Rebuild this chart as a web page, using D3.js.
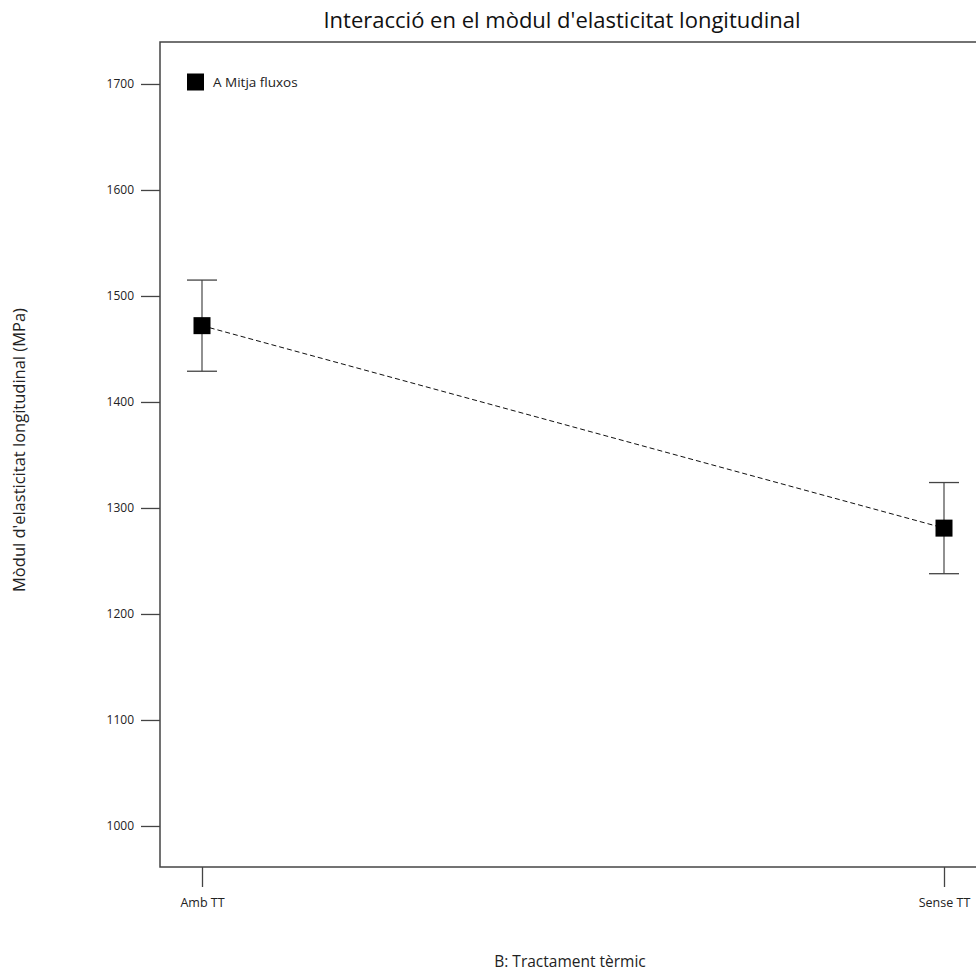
<!DOCTYPE html>
<html><head><meta charset="utf-8">
<script src="https://cdn.jsdelivr.net/npm/d3@7"></script>
<style>
body{margin:0;background:#fff;}
svg{display:block;font-family:"Open Sans","Noto Sans",sans-serif;}
</style></head>
<body><svg id="c" width="976" height="974"></svg>
<script>
const categories = ["Amb TT", "Sense TT"];
const means = [1472, 1281];
const lower = [1429, 1238];
const upper = [1515, 1324];
const yTicks = [1000, 1100, 1200, 1300, 1400, 1500, 1600, 1700];
const seriesName = "A Mitja fluxos";
const title = "Interacció en el mòdul d'elasticitat longitudinal";
const xTitle = "B: Tractament tèrmic";
const yTitle = "Mòdul d'elasticitat longitudinal (MPa)";

const svg = d3.select("#c");
const L = 160, R = 986, T = 42, B = 867;
const y = d3.scaleLinear().domain([961.3, 1739.6]).range([B, T]);
const x = d3.scalePoint().domain(categories).range([202, 944]);

const axisCol = "#444";
// frame
svg.append("rect").attr("x", L).attr("y", T).attr("width", R - L).attr("height", B - T)
  .attr("fill", "none").attr("stroke", axisCol).attr("stroke-width", 1.5);

// y axis
const ya = svg.append("g").attr("transform", `translate(${L},0)`)
  .call(d3.axisLeft(y).tickValues(yTicks).tickSize(19).tickPadding(7).tickFormat(d3.format("d")));
ya.select(".domain").remove();
ya.selectAll("line").attr("stroke", axisCol).attr("stroke-width", 1.3);
ya.selectAll("text").attr("font-size", 12).attr("fill", "#222").attr("font-family", "Open Sans, Noto Sans, sans-serif");

// x axis
const xa = svg.append("g").attr("transform", `translate(0,${B})`)
  .call(d3.axisBottom(x).tickSize(20).tickPadding(11));
xa.select(".domain").remove();
xa.selectAll("line").attr("stroke", axisCol).attr("stroke-width", 1.3);
xa.selectAll("text").attr("font-size", 12.5).attr("fill", "#222").attr("font-family", "Open Sans, Noto Sans, sans-serif");

// dashed line
const line = d3.line().x((d, i) => x(categories[i])).y(d => y(d));
svg.append("path").datum(means).attr("d", line).attr("fill", "none")
  .attr("stroke", "#111").attr("stroke-width", 1).attr("stroke-dasharray", "5,3");

// error bars
const eb = svg.append("g");
categories.forEach((c, i) => {
  const cx = x(c);
  eb.append("line").attr("x1", cx).attr("x2", cx).attr("y1", y(lower[i])).attr("y2", y(upper[i]))
    .attr("stroke", "#555").attr("stroke-width", 1.3);
  [lower[i], upper[i]].forEach(v => {
    eb.append("line").attr("x1", cx - 15).attr("x2", cx + 15).attr("y1", y(v)).attr("y2", y(v))
      .attr("stroke", "#444").attr("stroke-width", 1.3);
  });
});

// markers
svg.append("g").selectAll("rect").data(means).join("rect")
  .attr("x", (d, i) => x(categories[i]) - 8.5).attr("y", d => y(d) - 8.5)
  .attr("width", 17).attr("height", 17).attr("fill", "#000");

// legend
svg.append("rect").attr("x", 187).attr("y", 73.5).attr("width", 17).attr("height", 17).attr("fill", "#000");
svg.append("text").attr("x", 213).attr("y", 82).attr("dy", "0.35em").attr("font-size", 13.5)
  .attr("fill", "#222").text(seriesName);

// titles
svg.append("text").attr("x", 562).attr("y", 20).attr("dy", "0.35em").attr("text-anchor", "middle")
  .attr("font-size", 22).attr("fill", "#111").text(title);
svg.append("text").attr("x", 570).attr("y", 962).attr("dy", "0.35em").attr("text-anchor", "middle")
  .attr("font-size", 15.5).attr("fill", "#222").text(xTitle);
svg.append("text").attr("transform", "translate(19,450) rotate(-90)").attr("dy", "0.35em")
  .attr("text-anchor", "middle").attr("font-size", 16.5).attr("fill", "#222").text(yTitle);
</script></body></html>
